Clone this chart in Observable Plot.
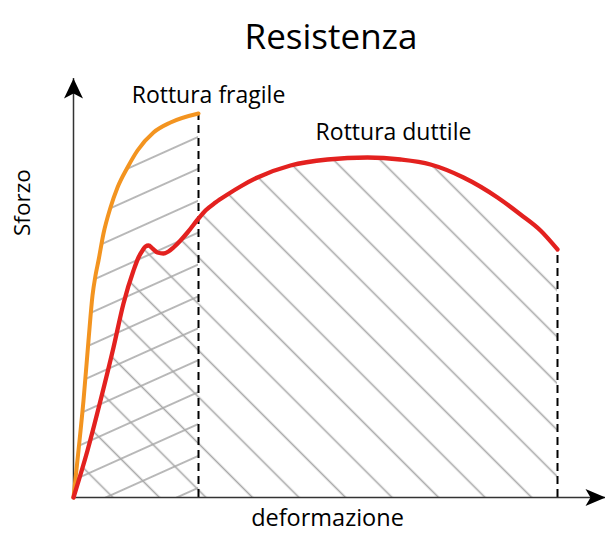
<!DOCTYPE html>
<html><head><meta charset="utf-8">
<script src="https://cdn.jsdelivr.net/npm/d3@7"></script>
<script src="https://cdn.jsdelivr.net/npm/@observablehq/plot@0.6"></script>
<style>
body{margin:0;background:#fff;font-family:"Open Sans",sans-serif;}
#title{height:62px;box-sizing:border-box;padding-top:18px;padding-left:57px;text-align:center;font-size:35px;line-height:35px;color:#000;}
#chart svg{display:block}
</style></head><body>
<div id="title">Resistenza</div>
<div id="chart"></div>
<script>
// Axis extents (data units)
const xDomain = [0, 532];
const yDomain = [0, 419];

// Brittle curve (Rottura fragile)
const fragileX = [0, 5, 10, 15, 19, 22, 25, 30, 37, 44, 54, 64, 80, 97, 125];
const fragileY = [0, 47, 97, 157, 202, 222, 237, 264, 290, 310, 330, 347, 365, 375, 384];

// Ductile curve (Rottura duttile)
const ductileX = [0, 14, 27, 40, 50, 60, 65, 69, 72, 75, 79, 84, 90, 95, 100, 107, 114, 125, 132, 142, 154, 167, 184, 217, 254, 294, 327, 357, 390, 424, 447, 467, 484];
const ductileY = [0, 47, 97, 150, 194, 227, 240, 247, 251, 252, 249, 245, 244, 246, 250, 257, 265, 279, 287, 295, 303, 311, 320, 332, 338, 340, 338, 333, 320, 300, 283, 267, 248];

// Texts
const labelFragile = "Rottura fragile";
const labelDuctile = "Rottura duttile";
const labelX = "deformazione";
const labelY = "Sforzo";

const fragile = fragileX.map((x, i) => ({x, y: fragileY[i]}));
const ductile = ductileX.map((x, i) => ({x, y: ductileY[i]}));
const peak = d3.greatest(ductile, d => d.y);

const W = 605, H = 471, mL = 73, mR = 0, mT = 16, mB = 36;
const xs = d3.scaleLinear(xDomain, [mL, W - mR]);
const ys = d3.scaleLinear(yDomain, [H - mB, mT]);

const arrowRight = {draw(c) {c.moveTo(0, 0); c.lineTo(-20, -8.5); c.lineTo(-15, 0); c.lineTo(-20, 8.5); c.closePath();}};
const arrowUp = {draw(c) {c.moveTo(0, 0); c.lineTo(-9.5, 20); c.lineTo(0, 15); c.lineTo(9.5, 20); c.closePath();}};

const chart = Plot.plot({
  width: W, height: H,
  marginLeft: mL, marginRight: mR, marginTop: mT, marginBottom: mB,
  x: {domain: xDomain, axis: null},
  y: {domain: yDomain, axis: null},
  style: {fontFamily: "'Open Sans', sans-serif", background: "white", color: "#000"},
  marks: [
    Plot.areaY(ductile, {x: "x", y: "y", curve: "monotone-x", fill: "url(#hatchRed)"}),
    Plot.areaY(fragile, {x: "x", y: "y", curve: "monotone-x", fill: "url(#hatchOrange)"}),
    Plot.ruleX([fragile[fragile.length - 1], ductile[ductile.length - 1]], {x: "x", y1: 0, y2: "y", stroke: "#000", strokeWidth: 2, strokeDasharray: "8,5"}),
    Plot.ruleX([0], {stroke: "#333", strokeWidth: 1.5}),
    Plot.ruleY([0], {stroke: "#333", strokeWidth: 1.5}),
    Plot.line(fragile, {x: "x", y: "y", curve: "monotone-x", stroke: "#F39420", strokeWidth: 4}),
    Plot.line(ductile, {x: "x", y: "y", curve: "monotone-x", stroke: "#E3211F", strokeWidth: 4.3}),
    Plot.dot([{x: xDomain[1], y: 0}], {x: "x", y: "y", symbol: arrowRight, r: 5, fill: "#000"}),
    Plot.dot([{x: 0, y: yDomain[1]}], {x: "x", y: "y", symbol: arrowUp, r: 5, fill: "#000"}),
    Plot.text([fragile[fragile.length - 1]], {x: "x", y: "y", text: () => labelFragile, dx: 10, dy: -18, fontSize: 23, fill: "#000"}),
    Plot.text([peak], {x: "x", y: "y", text: () => labelDuctile, dx: 26, dy: -25, fontSize: 23, fill: "#000"}),
    Plot.text([labelX], {frameAnchor: "bottom", text: d => d, dx: -12, dy: 28, fontSize: 23.5, fill: "#000"}),
    Plot.text([labelY], {frameAnchor: "left", text: d => d, rotate: -90, dx: -51, dy: -52, fontSize: 22.5, fill: "#000"})
  ]
});

const ns = "http://www.w3.org/2000/svg";
const defs = document.createElementNS(ns, "defs");
function hatch(id, angle, h, px, py) {
  const p = document.createElementNS(ns, "pattern");
  p.setAttribute("id", id);
  p.setAttribute("patternUnits", "userSpaceOnUse");
  p.setAttribute("width", 10);
  p.setAttribute("height", h);
  p.setAttribute("patternTransform", `translate(${px},${py}) rotate(${angle}) translate(0,${-h / 2})`);
  const l = document.createElementNS(ns, "line");
  l.setAttribute("x1", -1); l.setAttribute("x2", 11);
  l.setAttribute("y1", h / 2); l.setAttribute("y2", h / 2);
  l.setAttribute("stroke", "#a9a9a9");
  l.setAttribute("stroke-width", 1.6);
  p.appendChild(l);
  defs.appendChild(p);
}
hatch("hatchRed", 45, 32.9, xs(179), ys(0));
hatch("hatchOrange", -24.2, 29.1, xs(125), ys(360));
chart.insertBefore(defs, chart.firstChild);
document.getElementById("chart").appendChild(chart);
</script>
</body></html>
